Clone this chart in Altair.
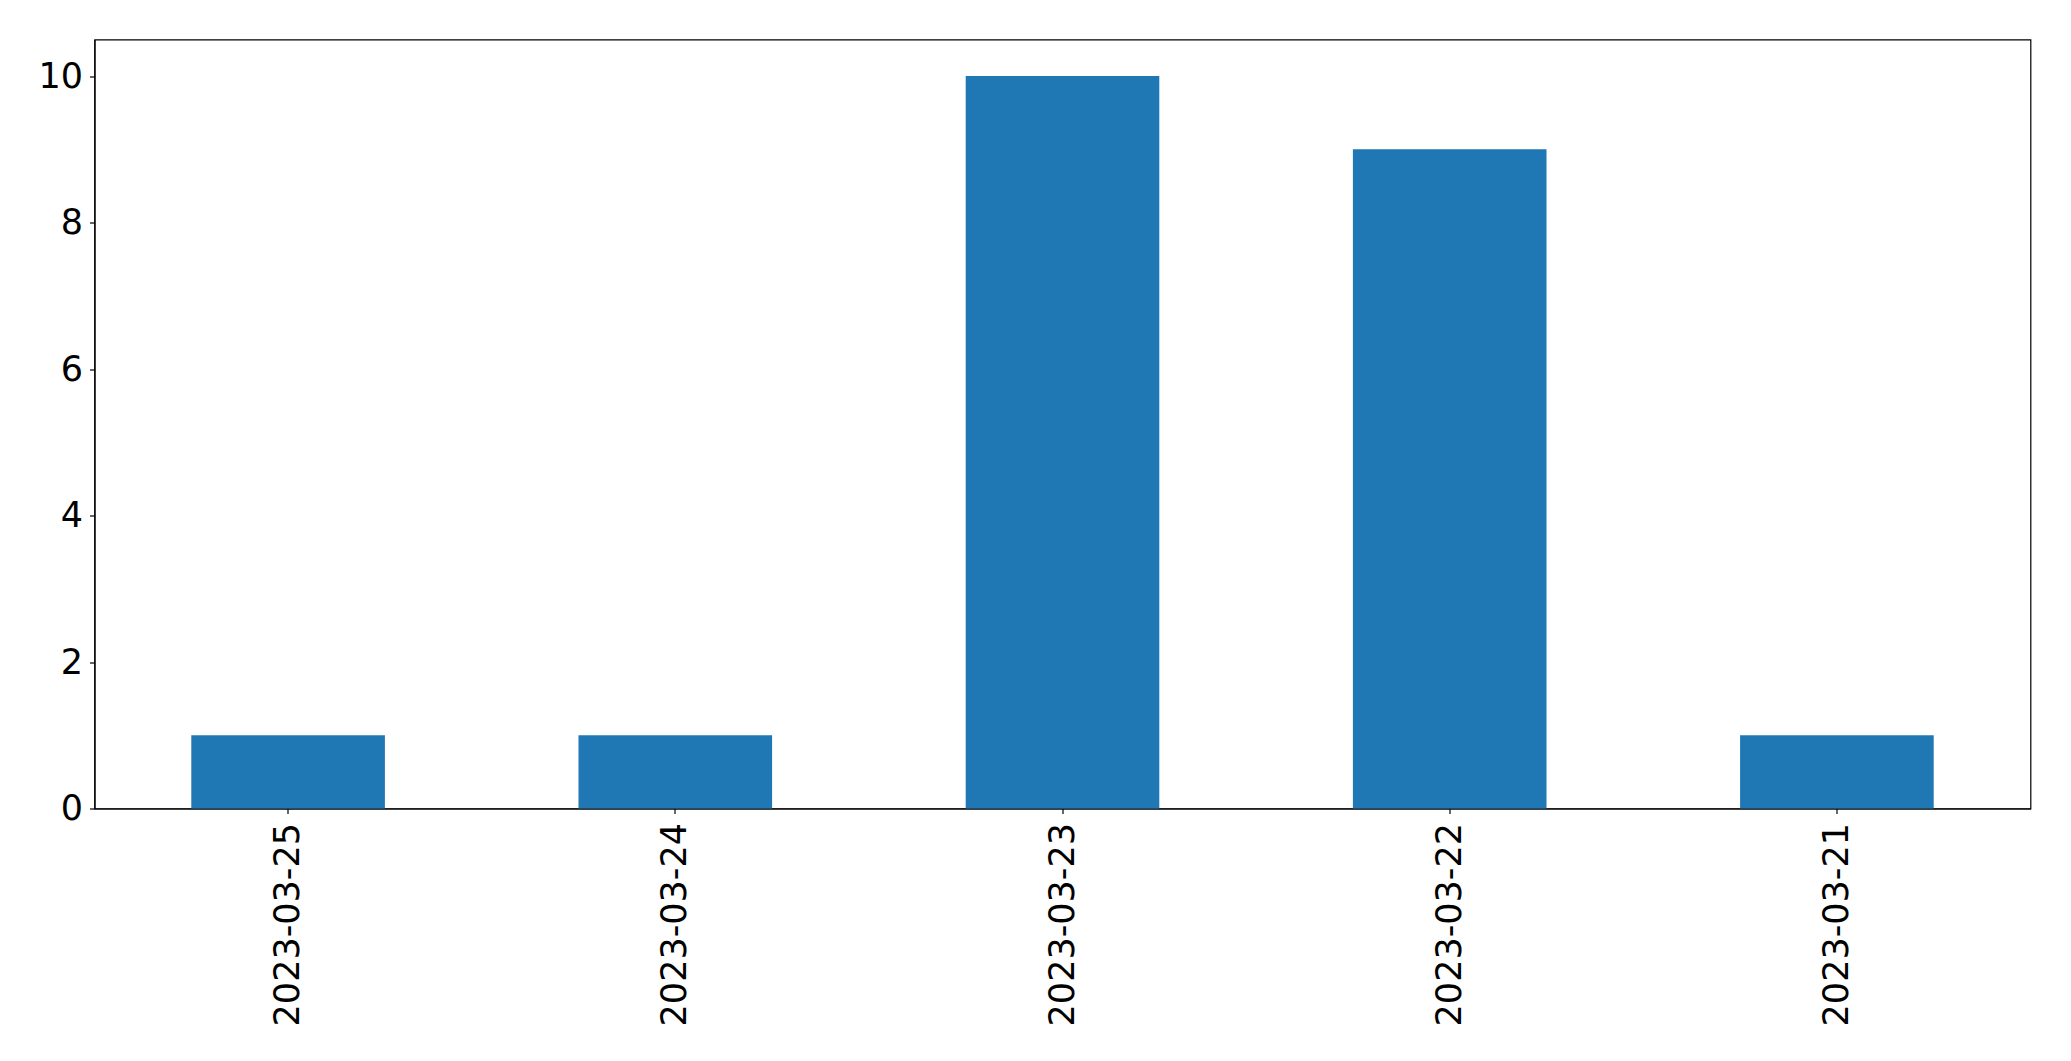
import altair as alt
import pandas as pd

dates = ["2023-03-25", "2023-03-24", "2023-03-23", "2023-03-22", "2023-03-21"]
counts = [1, 1, 10, 9, 1]

df = pd.DataFrame({"date": dates, "count": counts})

chart = (
    alt.Chart(df)
    .mark_bar(color="#1f77b4")
    .encode(
        x=alt.X(
            "date:N",
            sort=None,
            title=None,
            scale=alt.Scale(paddingInner=0.5, paddingOuter=0.25),
            axis=alt.Axis(labelAngle=-90, labelFontSize=35, labelPadding=9, labelLimit=0,
                          tickSize=5, labelFont="DejaVu Sans", labelColor="black",
                          domainColor="black", tickColor="black"),
        ),
        y=alt.Y(
            "count:Q",
            title=None,
            scale=alt.Scale(domain=[0, 10.5], nice=False),
            axis=alt.Axis(values=[0, 2, 4, 6, 8, 10], grid=False, labelFontSize=35,
                          labelPadding=7, tickSize=5, labelFont="DejaVu Sans",
                          labelColor="black", domainColor="black", tickColor="black"),
        ),
    )
    .properties(
        width=1936,
        height=769,
        autosize=alt.AutoSizeParams(type="none"),
        padding={"left": 86.5, "top": 31.5, "right": 20, "bottom": 240},
    )
    .configure_view(stroke="black", strokeWidth=1.2)
    .configure_axis(domainWidth=1.2, tickWidth=1.2)
)

chart.save("out.html", embed_options={"renderer": "svg", "actions": False})
